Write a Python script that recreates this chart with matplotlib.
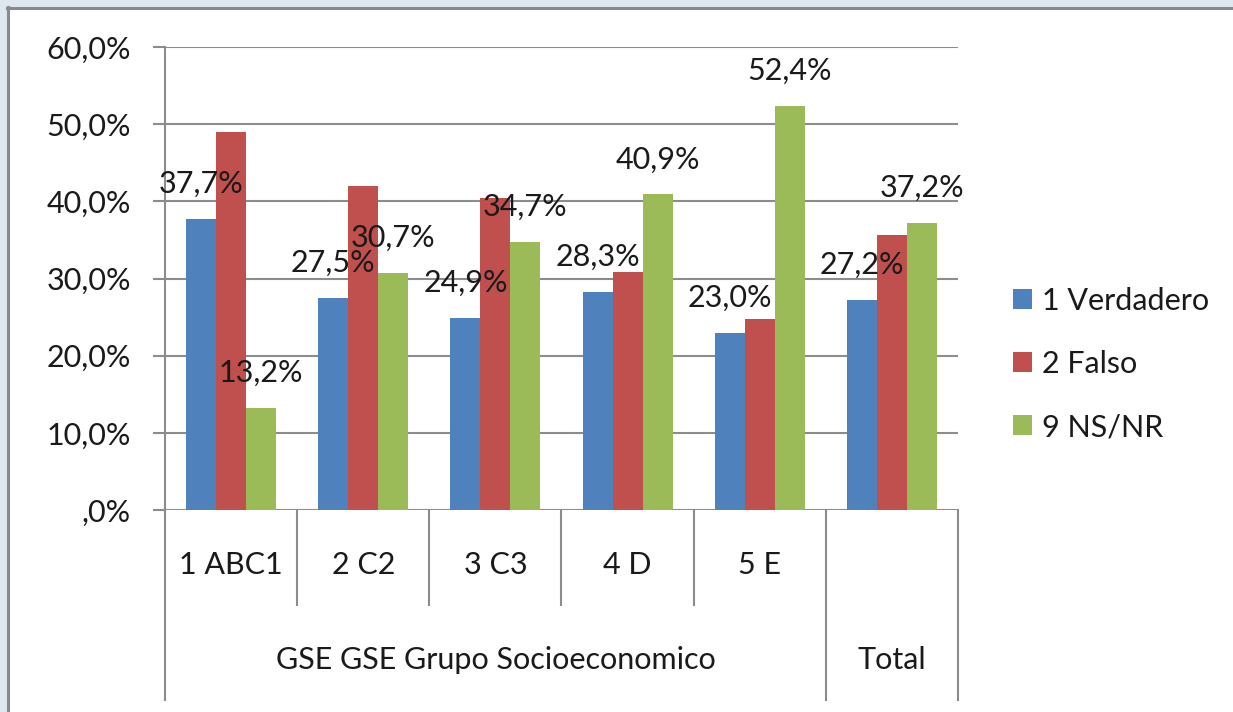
import numpy as np
import matplotlib
matplotlib.use("Agg")
import matplotlib.pyplot as plt
from matplotlib.patches import Rectangle
from matplotlib.lines import Line2D
import matplotlib.transforms as mtransforms

plt.rcParams['font.family'] = ['Lato', 'DejaVu Sans']

# ---- data ----
categories = ["1 ABC1", "2 C2", "3 C3", "4 D", "5 E", "Total"]
group_labels = ["GSE GSE Grupo Socioeconomico", "Total"]
group_sizes = [5, 1]
series_names = ["1 Verdadero", "2 Falso", "9 NS/NR"]
verdadero = [37.7, 27.5, 24.9, 28.3, 23.0, 27.2]
falso = [49.0, 42.0, 40.4, 30.9, 24.8, 35.6]
nsnr = [13.2, 30.7, 34.7, 40.9, 52.4, 37.2]
yticks = [0, 10, 20, 30, 40, 50, 60]
ytick_labels = [",0%", "10,0%", "20,0%", "30,0%", "40,0%", "50,0%", "60,0%"]
labelled = [True, False, True]

colors = ["#4f81bd", "#c0504d", "#9bbb59"]

W, H = 1233, 712
fig = plt.figure(figsize=(W / 100, H / 100), dpi=100)
fig.patch.set_facecolor("#dde8ef")

def fx(px):
    return px / W

def fy(py):
    return 1 - py / H

# white chart area and grey frame
fig.patches.append(Rectangle((fx(9), 0), 1 - fx(9), fy(9), transform=fig.transFigure,
                             facecolor="white", edgecolor="none", zorder=-10))
fig.lines.append(Line2D([fx(7.5), fx(7.5)], [0, fy(7)], transform=fig.transFigure,
                        color="#8a8a8a", lw=2.2, zorder=-5))
fig.lines.append(Line2D([fx(7), 1], [fy(7.5), fy(7.5)], transform=fig.transFigure,
                        color="#8a8a8a", lw=2.2, zorder=-5))

left, right, top, bottom = 165, 958, 47, 510
ax = fig.add_axes([fx(left), fy(bottom), fx(right) - fx(left), fy(top) - fy(bottom)])
ax.set_facecolor("none")
ax.set_zorder(1)

x = np.arange(len(categories))
w = 0.227
series = [verdadero, falso, nsnr]
for i, (vals, name, col) in enumerate(zip(series, series_names, colors)):
    bars = ax.bar(x + (i - 1) * w, vals, width=w, color=col, label=name, zorder=3)
    if labelled[i]:
        for b, v in zip(bars, vals):
            ax.annotate(f"{v:.1f}%".replace(".", ","),
                        (b.get_x() + b.get_width() / 2, v),
                        xytext=(0, 18.7), textcoords="offset points",
                        ha="center", va="baseline", fontsize=22, color="#1a1a1a",
                        zorder=5)

ax.set_xlim(-0.5, len(categories) - 0.5)
ax.set_ylim(0, 60)
ax.set_yticks(yticks)
ax.set_yticklabels(ytick_labels, fontsize=22, color="#1a1a1a")
ax.tick_params(axis="y", length=8.6, width=1.5, color="#8c8c8c", pad=16)
ax.set_xticks([])
ax.grid(axis="y", color="#8c8c8c", lw=1.5, zorder=0)
for s in ["top", "right", "bottom"]:
    ax.spines[s].set_visible(False)
ax.spines["left"].set_color("#8c8c8c")
ax.spines["left"].set_linewidth(1.5)

# multi-level category axis
ph = bottom - top
trans = mtransforms.blended_transform_factory(ax.transData, ax.transAxes)
lvl1 = -(605 - bottom) / ph
lvl2 = -(700 - bottom) / ph
bounds = [-0.5]
acc = -0.5
for g in group_sizes:
    acc += g
    bounds.append(acc)
for k in range(len(categories) + 1):
    xb = k - 0.5
    y_end = lvl2 if xb in bounds else lvl1
    ax.add_line(Line2D([xb, xb], [0, y_end], transform=trans, color="#8c8c8c",
                       lw=1.5, clip_on=False))
for xi, c in zip(x, categories):
    if c in group_labels:
        continue
    ax.text(xi, -(565 - bottom) / ph, c, transform=trans, ha="center", va="center",
            fontsize=22, color="#1a1a1a")
for k, g in enumerate(group_labels):
    cx = (bounds[k] + bounds[k + 1]) / 2
    ax.text(cx, -(660 - bottom) / ph, g, transform=trans, ha="center", va="center",
            fontsize=22, color="#1a1a1a")

leg = ax.legend(loc="center left", bbox_to_anchor=(fx(1013), fy(364)),
                bbox_transform=fig.transFigure, frameon=False, fontsize=22,
                handlelength=0.62, handleheight=0.62, handletextpad=0.33,
                labelspacing=1.15, borderpad=0, borderaxespad=0)
for t in leg.get_texts():
    t.set_color("#1a1a1a")

fig.savefig("out.png", dpi=100, facecolor=fig.get_facecolor())
